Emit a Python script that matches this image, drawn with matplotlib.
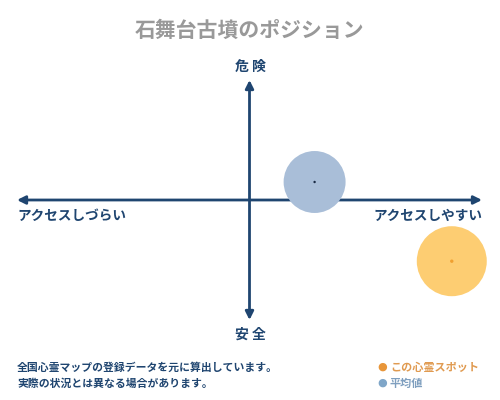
import matplotlib
matplotlib.use("Agg")
import matplotlib.pyplot as plt

plt.rcParams['font.family'] = ['Noto Sans CJK JP', 'DejaVu Sans']

# data (position on access / danger axes, -1..1)
names = ["平均値", "この心霊スポット"]
access = [0.28, 0.87]
danger = [0.15, -0.51]
sizes = [1990, 2540]
fills = ["#a9bed8", "#fdcd72"]
dots = ["#1a2a44", "#f0a030"]
dot_sizes = [3, 6]

title = "石舞台古墳のポジション"
top_lbl, bottom_lbl = "危 険", "安 全"
left_lbl, right_lbl = "アクセスしづらい", "アクセスしやすい"
notes = ["全国心霊マップの登録データを元に算出しています。",
         "実際の状況とは異なる場合があります。"]
legend_cols = ["#e8963a", "#7fa6c8"]
legend_txt_cols = ["#e09a50", "#7f9fbf"]

NAVY = "#1f4570"

fig = plt.figure(figsize=(5, 4), dpi=100)
ax = fig.add_axes([17 / 500, 80 / 400, 465 / 500, 240 / 400])
ax.set_xlim(-1, 1)
ax.set_ylim(-1, 1)
ax.axis("off")

arrow = dict(arrowstyle="<|-|>", color=NAVY, lw=2, mutation_scale=12,
             shrinkA=0, shrinkB=0)
ax.annotate("", xy=(1, 0), xytext=(-1, 0), arrowprops=arrow)
ax.annotate("", xy=(0, 1), xytext=(0, -1), arrowprops=arrow)

for x, y, s, f, d, ds in zip(access, danger, sizes, fills, dots, dot_sizes):
    ax.scatter([x], [y], s=s, color=f, edgecolors="none", zorder=3, clip_on=False)
    ax.scatter([x], [y], s=ds, color=d, edgecolors="none", zorder=4, clip_on=False)

fig.text(0.5, 1 - 30 / 400, title, ha="center", va="center",
         fontsize=15, color="#999999", fontweight="bold")
fig.text(0.5, 1 - 67 / 400, top_lbl, ha="center", va="center",
         fontsize=10, color=NAVY, fontweight="bold")
fig.text(0.5, 1 - 335 / 400, bottom_lbl, ha="center", va="center",
         fontsize=10, color=NAVY, fontweight="bold")
fig.text(17 / 500, 1 - 216 / 400, left_lbl, ha="left", va="center",
         fontsize=9.8, color=NAVY, fontweight="bold")
fig.text(482 / 500, 1 - 216 / 400, right_lbl, ha="right", va="center",
         fontsize=9.8, color=NAVY, fontweight="bold")

for i, line in enumerate(notes):
    fig.text(17 / 500, 1 - (368 + 16 * i) / 400, line, ha="left", va="center",
             fontsize=7.8, color=NAVY, fontweight="bold")

for i, (lab, c, tc) in enumerate(zip(names[::-1], legend_cols, legend_txt_cols)):
    yy = 1 - (367 + 16 * i) / 400
    fig.text(377 / 500, yy, "●", ha="left", va="center", fontsize=8, color=c,
             family=["DejaVu Sans"])
    fig.text(390 / 500, yy, lab, ha="left", va="center", fontsize=8,
             color=tc, fontweight="bold")

fig.savefig("out.png", dpi=100)
